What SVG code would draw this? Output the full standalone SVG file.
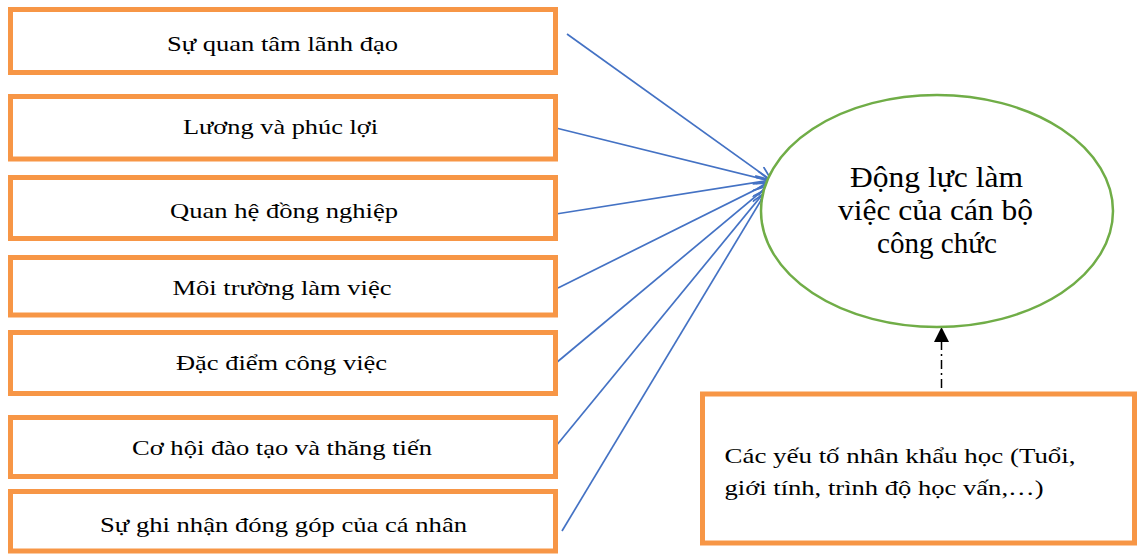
<svg xmlns="http://www.w3.org/2000/svg" width="1138" height="557" viewBox="0 0 1138 557">
<defs>
<style>
.box{fill:#fff;stroke:#F79646;stroke-width:5}
.t{font-family:"Liberation Serif","Times New Roman",serif;font-size:22px;fill:#000}
.big{font-size:30px}
.ar{stroke:#4472C4;stroke-width:1.7;fill:none;marker-end:url(#open)}
</style>
<marker id="open" viewBox="0 0 18 14" refX="16" refY="7" markerWidth="18" markerHeight="14" markerUnits="userSpaceOnUse" orient="auto">
<path d="M1,0.5 L16,7 L1,13.5" fill="none" stroke="#4472C4" stroke-width="1.7"/>
</marker>
</defs>
<rect width="1138" height="557" fill="#fff"/>
<g id="connectors">
<line class="ar" x1="567" y1="34" x2="772" y2="181"/>
<line class="ar" x1="556" y1="128" x2="771" y2="181"/>
<line class="ar" x1="556" y1="214" x2="771" y2="180"/>
<line class="ar" x1="558" y1="288" x2="769" y2="183"/>
<line class="ar" x1="556" y1="363" x2="768" y2="186"/>
<line class="ar" x1="556" y1="446" x2="767" y2="189"/>
<line class="ar" x1="562" y1="531" x2="766" y2="192"/>
<line x1="941.5" y1="388" x2="941.5" y2="342" stroke="#000" stroke-width="1.5" stroke-dasharray="9 4 2 4"/>
<path d="M941.5,327 L949,342 L934,342 Z" fill="#000"/>
</g>
<g id="n1"><rect class="box" x="10.5" y="9.5" width="545" height="63"/><text class="t" x="167" y="51" textLength="231" lengthAdjust="spacingAndGlyphs">Sự quan tâm lãnh đạo</text></g>
<g id="n2"><rect class="box" x="10.5" y="96.5" width="545" height="62.5"/><text class="t" x="183" y="134" textLength="195" lengthAdjust="spacingAndGlyphs">Lương và phúc lợi</text></g>
<g id="n3"><rect class="box" x="10.5" y="177.5" width="545" height="61"/><text class="t" x="170" y="218" textLength="228" lengthAdjust="spacingAndGlyphs">Quan hệ đồng nghiệp</text></g>
<g id="n4"><rect class="box" x="10.5" y="257.5" width="545" height="57.5"/><text class="t" x="172.5" y="295" textLength="219" lengthAdjust="spacingAndGlyphs">Môi trường làm việc</text></g>
<g id="n5"><rect class="box" x="10.5" y="332.5" width="545" height="61"/><text class="t" x="176" y="370" textLength="211" lengthAdjust="spacingAndGlyphs">Đặc điểm công việc</text></g>
<g id="n6"><rect class="box" x="10.5" y="417.5" width="545" height="59"/><text class="t" x="132" y="455" textLength="300" lengthAdjust="spacingAndGlyphs">Cơ hội đào tạo và thăng tiến</text></g>
<g id="n7"><rect class="box" x="10.5" y="491.5" width="545" height="59.5"/><text class="t" x="100" y="531.5" textLength="367" lengthAdjust="spacingAndGlyphs">Sự ghi nhận đóng góp của cá nhân</text></g>
<g id="center"><ellipse cx="937" cy="211" rx="176" ry="116" fill="#fff" stroke="#70AD47" stroke-width="2.5"/>
<text class="t big" x="850" y="187" textLength="173" lengthAdjust="spacingAndGlyphs">Động lực làm</text>
<text class="t big" x="838" y="220" textLength="195" lengthAdjust="spacingAndGlyphs">việc của cán bộ</text>
<text class="t big" x="877" y="253" textLength="120" lengthAdjust="spacingAndGlyphs">công chức</text></g>
<g id="demo"><rect class="box" x="702.5" y="394" width="432" height="149"/>
<text class="t" x="724.5" y="462.5" textLength="351" lengthAdjust="spacingAndGlyphs">Các yếu tố nhân khẩu học (Tuổi,</text>
<text class="t" x="724.5" y="495" textLength="319" lengthAdjust="spacingAndGlyphs">giới tính, trình độ học vấn,…)</text></g>
</svg>
